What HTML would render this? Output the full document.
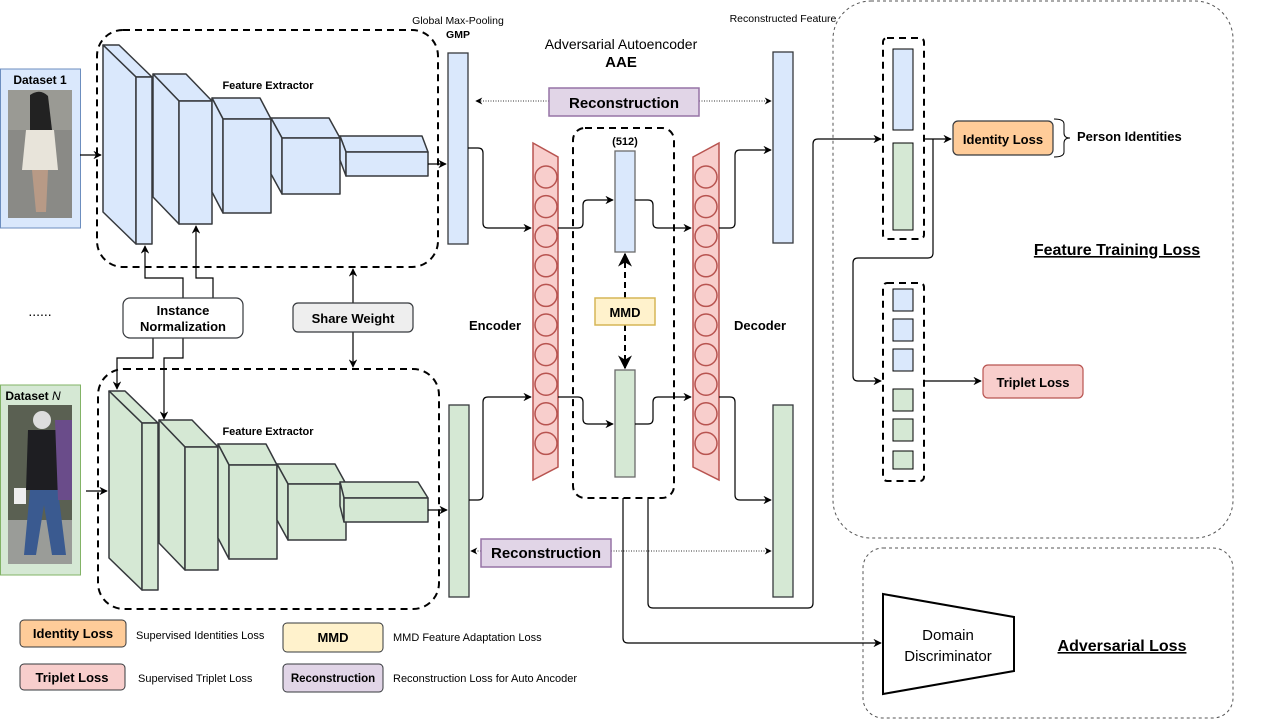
<!DOCTYPE html>
<html><head><meta charset="utf-8"><style>
html,body{margin:0;padding:0;background:#fff;}
svg{display:block;font-family:"Liberation Sans",Arial,sans-serif;}
</style></head><body>
<svg width="1264" height="719" viewBox="0 0 1264 719" xmlns="http://www.w3.org/2000/svg">
<defs>
<marker id="a" viewBox="0 0 10 10" refX="9" refY="5" markerWidth="7" markerHeight="7" orient="auto-start-reverse"><path d="M0,0 L10,5 L0,10 L3,5 z" fill="#000"/></marker>
</defs>
<rect width="1264" height="719" fill="#fff"/>

<rect x="833" y="1" width="400" height="537" rx="38" fill="none" stroke="#555" stroke-dasharray="3,3"/>
<rect x="863" y="548" width="370" height="170" rx="20" fill="none" stroke="#555" stroke-dasharray="3,3"/>

<rect x="97" y="30" width="341" height="237" rx="26" fill="none" stroke="#000" stroke-width="2" stroke-dasharray="7,5"/>
<rect x="98" y="369" width="341" height="240" rx="26" fill="none" stroke="#000" stroke-width="2" stroke-dasharray="7,5"/>

<rect x="0.5" y="69" width="80" height="159" fill="#dae8fc" stroke="#6c8ebf"/>
<text x="40" y="84" font-size="12" font-weight="bold" text-anchor="middle">Dataset 1</text>
<rect x="8" y="90" width="64" height="128" fill="#8a8a86"/>
<rect x="8" y="90" width="64" height="40" fill="#9a9a94"/>
<path d="M30,95 Q40,88 48,96 L52,130 L30,130 Z" fill="#222"/>
<path d="M26,130 L54,130 L58,170 L22,170 Z" fill="#e8e4da"/>
<path d="M32,170 L48,170 L46,212 L36,212 Z" fill="#b89a86"/>
<rect x="0.5" y="385" width="80" height="190" fill="#d5e8d4" stroke="#82b366"/>
<text x="33" y="400" font-size="12" font-weight="bold" text-anchor="middle">Dataset <tspan font-style="italic" font-weight="normal">N</tspan></text>
<rect x="8" y="405" width="64" height="159" fill="#5a6052"/>
<rect x="8" y="520" width="64" height="44" fill="#9a9c98"/>
<circle cx="42" cy="420" r="9" fill="#ddd"/>
<path d="M28,430 L56,430 L60,490 L26,490 Z" fill="#1e1e22"/>
<path d="M30,490 L58,490 L66,555 L52,555 L44,505 L36,555 L24,555 Z" fill="#3a5a90"/>
<path d="M55,420 L72,420 L72,500 L58,500 Z" fill="#6a4c8a"/>
<rect x="14" y="488" width="12" height="16" fill="#eee"/>
<text x="40" y="316" font-size="14" text-anchor="middle">......</text>

<g fill="#dae8fc" stroke="#36393d" stroke-width="1.5" stroke-linejoin="round">
<polygon points="103,45 119,45 152,77 136,77"/><polygon points="103,45 136,77 136,244 103,212"/><rect x="136" y="77" width="16" height="167"/>
<polygon points="153,74 186,74 212,101 179,101"/><polygon points="153,74 179,101 179,224 153,197"/><rect x="179" y="101" width="33" height="123"/>
<polygon points="212,98 260,98 271,119 223,119"/><polygon points="212,98 223,119 223,213 212,192"/><rect x="223" y="119" width="48" height="94"/>
<polygon points="271,118 329,118 340,138 282,138"/><polygon points="271,118 282,138 282,194 271,174"/><rect x="282" y="138" width="58" height="56"/>
<polygon points="340,136 422,136 428,152 346,152"/><polygon points="340,136 346,152 346,176 340,160"/><rect x="346" y="152" width="82" height="24"/>
</g>
<g fill="#d5e8d4" stroke="#36393d" stroke-width="1.5" stroke-linejoin="round">
<polygon points="109,391 125,391 158,423 142,423"/><polygon points="109,391 142,423 142,590 109,558"/><rect x="142" y="423" width="16" height="167"/>
<polygon points="159,420 192,420 218,447 185,447"/><polygon points="159,420 185,447 185,570 159,543"/><rect x="185" y="447" width="33" height="123"/>
<polygon points="218,444 266,444 277,465 229,465"/><polygon points="218,444 229,465 229,559 218,538"/><rect x="229" y="465" width="48" height="94"/>
<polygon points="277,464 335,464 346,484 288,484"/><polygon points="277,464 288,484 288,540 277,520"/><rect x="288" y="484" width="58" height="56"/>
<polygon points="340,482 418,482 428,498 344,498"/><polygon points="340,482 344,498 344,522 340,506"/><rect x="344" y="498" width="84" height="24"/>
</g>
<text x="268" y="89" font-size="11" font-weight="bold" text-anchor="middle">Feature Extractor</text>
<text x="268" y="435" font-size="11" font-weight="bold" text-anchor="middle">Feature Extractor</text>

<rect x="448" y="53" width="20" height="191" fill="#dae8fc" stroke="#36393d" stroke-width="1.3"/>
<rect x="449" y="405" width="20" height="192" fill="#d5e8d4" stroke="#36393d" stroke-width="1.3"/>
<rect x="773" y="52" width="20" height="191" fill="#dae8fc" stroke="#36393d" stroke-width="1.3"/>
<rect x="773" y="405" width="20" height="192" fill="#d5e8d4" stroke="#36393d" stroke-width="1.3"/>
<text x="458" y="24" font-size="10.5" text-anchor="middle">Global Max-Pooling</text>
<text x="458" y="38" font-size="10.5" font-weight="bold" text-anchor="middle">GMP</text>
<text x="783" y="22" font-size="10.5" text-anchor="middle">Reconstructed Feature</text>
<text x="621" y="49" font-size="14" text-anchor="middle">Adversarial Autoencoder</text>
<text x="621" y="67" font-size="15" font-weight="bold" text-anchor="middle">AAE</text>

<polygon points="533,143 558,157 558,467 533,480" fill="#f8cecc" stroke="#b85450" stroke-width="1.5"/>
<polygon points="693,157 719,143 719,480 693,467" fill="#f8cecc" stroke="#b85450" stroke-width="1.5"/>
<g fill="none" stroke="#b85450" stroke-width="1.5">
<circle cx="546" cy="177" r="11"/><circle cx="546" cy="206.6" r="11"/><circle cx="546" cy="236.2" r="11"/><circle cx="546" cy="265.8" r="11"/><circle cx="546" cy="295.4" r="11"/><circle cx="546" cy="325" r="11"/><circle cx="546" cy="354.6" r="11"/><circle cx="546" cy="384.2" r="11"/><circle cx="546" cy="413.8" r="11"/><circle cx="546" cy="443.4" r="11"/>
<circle cx="706" cy="177" r="11"/><circle cx="706" cy="206.6" r="11"/><circle cx="706" cy="236.2" r="11"/><circle cx="706" cy="265.8" r="11"/><circle cx="706" cy="295.4" r="11"/><circle cx="706" cy="325" r="11"/><circle cx="706" cy="354.6" r="11"/><circle cx="706" cy="384.2" r="11"/><circle cx="706" cy="413.8" r="11"/><circle cx="706" cy="443.4" r="11"/>
</g>
<text x="495" y="330" font-size="13" font-weight="bold" text-anchor="middle">Encoder</text>
<text x="760" y="330" font-size="13" font-weight="bold" text-anchor="middle">Decoder</text>

<rect x="573" y="128" width="101" height="370" rx="12" fill="none" stroke="#000" stroke-width="2" stroke-dasharray="7,5"/>
<text x="625" y="145" font-size="11" font-weight="bold" text-anchor="middle">(512)</text>
<rect x="615" y="151" width="20" height="101" fill="#dae8fc" stroke="#6b6b6b" stroke-width="1.3"/>
<rect x="615" y="370" width="20" height="107" fill="#d5e8d4" stroke="#6b6b6b" stroke-width="1.3"/>
<line x1="625" y1="298" x2="625" y2="254" stroke="#000" stroke-width="2" stroke-dasharray="6,4" marker-end="url(#a)"/>
<line x1="625" y1="325" x2="625" y2="368" stroke="#000" stroke-width="2" stroke-dasharray="6,4" marker-end="url(#a)"/>
<rect x="595" y="298" width="60" height="27" fill="#fff2cc" stroke="#d6b656" stroke-width="1.5"/>
<text x="625" y="317" font-size="13" font-weight="bold" text-anchor="middle">MMD</text>

<line x1="549" y1="101" x2="476" y2="101" stroke="#333" stroke-dasharray="1,1.5" marker-end="url(#a)"/>
<line x1="699" y1="101" x2="771" y2="101" stroke="#333" stroke-dasharray="1,1.5" marker-end="url(#a)"/>
<rect x="549" y="88" width="150" height="28" fill="#e1d5e7" stroke="#9673a6" stroke-width="1.5"/>
<text x="624" y="108" font-size="15" font-weight="bold" text-anchor="middle">Reconstruction</text>
<line x1="481" y1="551" x2="471" y2="551" stroke="#333" stroke-dasharray="1,1.5" marker-end="url(#a)"/>
<line x1="611" y1="551" x2="771" y2="551" stroke="#333" stroke-dasharray="1,1.5" marker-end="url(#a)"/>
<rect x="481" y="539" width="130" height="28" fill="#e1d5e7" stroke="#9673a6" stroke-width="1.5"/>
<text x="546" y="558" font-size="15" font-weight="bold" text-anchor="middle">Reconstruction</text>

<g fill="none" stroke="#000" stroke-width="1.2">
<path d="M80,155 L101,155" marker-end="url(#a)"/>
<path d="M86,491 L107,491" marker-end="url(#a)"/>
<path d="M428,164 L446,164" marker-end="url(#a)"/>
<path d="M428,510 L447,510" marker-end="url(#a)"/>
<path d="M468,148 L478,148 Q483,148 483,153 L483,223 Q483,228 488,228 L531,228" marker-end="url(#a)"/>
<path d="M469,500 L478,500 Q483,500 483,495 L483,402 Q483,397 488,397 L531,397" marker-end="url(#a)"/>
<path d="M558,228 L578,228 Q583,228 583,223 L583,205 Q583,200 588,200 L613,200" marker-end="url(#a)"/>
<path d="M558,397 L578,397 Q583,397 583,402 L583,419 Q583,424 588,424 L613,424" marker-end="url(#a)"/>
<path d="M635,200 L648,200 Q653,200 653,205 L653,223 Q653,228 658,228 L691,228" marker-end="url(#a)"/>
<path d="M635,424 L648,424 Q653,424 653,419 L653,402 Q653,397 658,397 L691,397" marker-end="url(#a)"/>
<path d="M719,228 L730,228 Q735,228 735,223 L735,155 Q735,150 740,150 L771,150" marker-end="url(#a)"/>
<path d="M719,397 L730,397 Q735,397 735,402 L735,495 Q735,500 740,500 L771,500" marker-end="url(#a)"/>
<path d="M648,498 L648,603 Q648,608 653,608 L808,608 Q813,608 813,603 L813,144 Q813,139 818,139 L881,139" marker-end="url(#a)"/>
<path d="M623,498 L623,638 Q623,643 628,643 L881,643" marker-end="url(#a)"/>
<path d="M924,139 L951,139" marker-end="url(#a)"/>
<path d="M933,139 L933,253 Q933,258 928,258 L858,258 Q853,258 853,263 L853,376 Q853,381 858,381 L881,381" marker-end="url(#a)"/>
<path d="M924,381 L981,381" marker-end="url(#a)"/>
<path d="M183,298 L183,278 L145,278 L145,246" marker-end="url(#a)"/>
<path d="M213,298 L213,278 L196,278 L196,226" marker-end="url(#a)"/>
<path d="M153,338 L153,358 L117,358 L117,389" marker-end="url(#a)"/>
<path d="M183,338 L183,358 L164,358 L164,419" marker-end="url(#a)"/>
<path d="M353,303 L353,269" marker-end="url(#a)"/>
<path d="M353,332 L353,367" marker-end="url(#a)"/>
</g>
<rect x="123" y="298" width="120" height="40" rx="7" fill="#fff" stroke="#36393d" stroke-width="1.2"/>
<text x="183" y="315" font-size="13" font-weight="bold" text-anchor="middle">Instance</text>
<text x="183" y="331" font-size="13" font-weight="bold" text-anchor="middle">Normalization</text>
<rect x="293" y="303" width="120" height="29" rx="5" fill="#eeeeee" stroke="#36393d" stroke-width="1.2"/>
<text x="353" y="323" font-size="13" font-weight="bold" text-anchor="middle">Share Weight</text>

<rect x="883" y="38" width="41" height="201" rx="4" fill="none" stroke="#000" stroke-width="2" stroke-dasharray="7,5"/>
<rect x="893" y="49" width="20" height="81" fill="#dae8fc" stroke="#000"/>
<rect x="893" y="143" width="20" height="87" fill="#d5e8d4" stroke="#000"/>
<rect x="883" y="283" width="41" height="198" rx="4" fill="none" stroke="#000" stroke-width="2" stroke-dasharray="7,5"/>
<rect x="893" y="289" width="20" height="22" fill="#dae8fc" stroke="#000"/>
<rect x="893" y="319" width="20" height="22" fill="#dae8fc" stroke="#000"/>
<rect x="893" y="349" width="20" height="22" fill="#dae8fc" stroke="#000"/>
<rect x="893" y="389" width="20" height="22" fill="#d5e8d4" stroke="#000"/>
<rect x="893" y="419" width="20" height="22" fill="#d5e8d4" stroke="#000"/>
<rect x="893" y="451" width="20" height="18" fill="#d5e8d4" stroke="#000"/>
<rect x="953" y="121" width="100" height="34" rx="5" fill="#ffcc99" stroke="#36393d" stroke-width="1.2"/>
<text x="1003" y="144" font-size="13" font-weight="bold" text-anchor="middle">Identity Loss</text>
<path d="M1054,119 Q1064,119 1064,124 L1064,133 Q1064,138 1070,138 Q1064,138 1064,143 L1064,152 Q1064,157 1054,157" fill="none" stroke="#000"/>
<text x="1077" y="141" font-size="13" font-weight="bold">Person Identities</text>
<rect x="983" y="365" width="100" height="33" rx="5" fill="#f8cecc" stroke="#b85450" stroke-width="1.2"/>
<text x="1033" y="387" font-size="13" font-weight="bold" text-anchor="middle">Triplet Loss</text>
<text x="1117" y="255" font-size="16" font-weight="bold" text-anchor="middle" text-decoration="underline">Feature Training Loss</text>

<polygon points="883,594 1014,617 1014,671 883,694" fill="#fff" stroke="#000" stroke-width="2"/>
<text x="948" y="640" font-size="15" text-anchor="middle">Domain</text>
<text x="948" y="661" font-size="15" text-anchor="middle">Discriminator</text>
<text x="1122" y="651" font-size="16" font-weight="bold" text-anchor="middle" text-decoration="underline">Adversarial Loss</text>

<rect x="20" y="620" width="106" height="27" rx="4" fill="#ffcc99" stroke="#36393d"/>
<text x="73" y="638" font-size="13" font-weight="bold" text-anchor="middle">Identity Loss</text>
<text x="136" y="639" font-size="11">Supervised Identities Loss</text>
<rect x="20" y="664" width="105" height="26" rx="4" fill="#f8cecc" stroke="#36393d"/>
<text x="72" y="682" font-size="13" font-weight="bold" text-anchor="middle">Triplet Loss</text>
<text x="138" y="682" font-size="11">Supervised Triplet Loss</text>
<rect x="283" y="623" width="100" height="29" rx="4" fill="#fff2cc" stroke="#36393d"/>
<text x="333" y="642" font-size="13" font-weight="bold" text-anchor="middle">MMD</text>
<text x="393" y="641" font-size="11">MMD Feature Adaptation Loss</text>
<rect x="283" y="664" width="100" height="28" rx="4" fill="#e1d5e7" stroke="#36393d"/>
<text x="333" y="682" font-size="11.5" font-weight="bold" text-anchor="middle">Reconstruction</text>
<text x="393" y="682" font-size="11">Reconstruction Loss for Auto Ancoder</text>
</svg>
</body></html>
